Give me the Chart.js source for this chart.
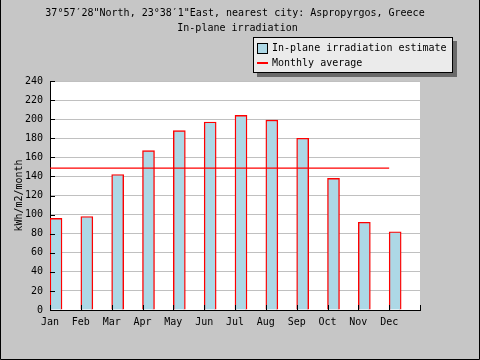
<!DOCTYPE html>
<html>
<head>
<meta charset="utf-8">
<script src="https://cdn.jsdelivr.net/npm/chart.js@4/dist/chart.umd.min.js"></script>
<style>
html,body{margin:0;padding:0;background:#c6c6c6;}
#wrap{width:480px;height:360px;position:relative;}
</style>
</head>
<body>
<div id="wrap"><canvas id="c" width="480" height="360"></canvas></div>
<script>
// ---- data ----
const months = ['Jan','Feb','Mar','Apr','May','Jun','Jul','Aug','Sep','Oct','Nov','Dec'];
const irradiation = [96, 98, 142, 167, 188, 197, 204, 199, 180, 138, 92, 82];
const monthlyAverage = 148.6;
const titleLines = ['37°57′28"North, 23°38′1"East, nearest city: Aspropyrgos, Greece', 'In-plane irradiation'];
const seriesLabels = ['In-plane irradiation estimate', 'Monthly average'];
const yAxisLabel = 'kWh/m2/month';
const yMin = 0, yMax = 240, yStep = 20;

// ---- style ----
const FONT = "'DejaVu Sans Mono', monospace";
const BAR_FILL = '#add8e6';
const RED = '#ff0000';
const BAR_PX = 12;

Chart.defaults.font.family = FONT;
Chart.defaults.font.size = 10;
Chart.defaults.color = '#000';

const decor = {
  id: 'decor',
  beforeDraw(chart) {
    const {ctx, chartArea: a} = chart;
    ctx.save();
    ctx.fillStyle = '#c6c6c6';
    ctx.fillRect(0, 0, chart.width, chart.height);
    ctx.fillStyle = '#ffffff';
    ctx.fillRect(a.left, a.top, a.right - a.left, a.bottom - a.top);
    ctx.restore();
  },
  afterDraw(chart) {
    const {ctx, chartArea: a, scales: {x, y}} = chart;
    ctx.save();
    // inward ticks
    ctx.strokeStyle = '#000';
    ctx.lineWidth = 1;
    ctx.beginPath();
    for (let v = yMin; v <= yMax; v += yStep) {
      const py = Math.round(y.getPixelForValue(v)) + 0.5;
      ctx.moveTo(a.left, py); ctx.lineTo(a.left + 5, py);
    }
    for (let i = 0; i <= months.length; i++) {
      const px = Math.round(x.getPixelForValue(i)) + 0.5;
      ctx.moveTo(px, a.bottom); ctx.lineTo(px, a.bottom - 5);
    }
    ctx.stroke();
    // titles
    ctx.fillStyle = '#000';
    ctx.font = '10px ' + FONT;
    ctx.textAlign = 'center';
    ctx.textBaseline = 'middle';
    ctx.fillText(titleLines[0], 235, 13.5);
    ctx.fillText(titleLines[1], 237.5, 28.5);
    // legend
    const lx = 253, ly = 37, lw = 200, lh = 36;
    ctx.fillStyle = '#6a6a6a';
    ctx.fillRect(lx + 4, ly + 4, lw, lh);
    ctx.fillStyle = '#ebebeb';
    ctx.fillRect(lx, ly, lw, lh);
    ctx.strokeStyle = '#000';
    ctx.strokeRect(lx + 0.5, ly + 0.5, lw - 1, lh - 1);
    ctx.fillStyle = BAR_FILL;
    ctx.fillRect(257, 43, 10, 10);
    ctx.strokeRect(257.5, 43.5, 10, 10);
    ctx.fillStyle = RED;
    ctx.fillRect(257, 62, 11, 2);
    ctx.fillStyle = '#000';
    ctx.textAlign = 'left';
    ctx.fillText(seriesLabels[0], 272, 48.5);
    ctx.fillText(seriesLabels[1], 272, 63.5);
    // outer frame (left, right, bottom)
    ctx.strokeStyle = '#000';
    ctx.beginPath();
    ctx.moveTo(0.5, 0); ctx.lineTo(0.5, chart.height - 0.5);
    ctx.lineTo(chart.width - 0.5, chart.height - 0.5);
    ctx.lineTo(chart.width - 0.5, 0);
    ctx.stroke();
    ctx.restore();
  }
};

let shift = 0;
const chart = new Chart(document.getElementById('c'), {
  data: {
    datasets: [
      {
        type: 'line',
        label: seriesLabels[1],
        order: 0,
        data: [{x: 0, y: monthlyAverage}, {x: months.length - 1, y: monthlyAverage}],
        borderColor: RED,
        borderWidth: 1.2,
        pointRadius: 0,
        fill: false
      },
      {
        type: 'bar',
        label: seriesLabels[0],
        order: 1,
        data: irradiation.map((v, i) => ({x: i, y: v})),
        backgroundColor: BAR_FILL,
        borderColor: RED,
        borderWidth: 1.4,
        barThickness: BAR_PX
      }
    ]
  },
  options: {
    responsive: false,
    animation: false,
    events: [],
    layout: {padding: {left: 0, top: 81, right: 60, bottom: 0}},
    plugins: {legend: {display: false}, title: {display: false}, tooltip: {enabled: false}},
    scales: {
      x: {
        type: 'linear',
        min: 0,
        max: months.length,
        offset: false,
        afterFit(s) { s.height = 50; },
        grid: {display: false, drawTicks: false},
        border: {color: '#000', width: 1},
        ticks: {
          stepSize: 1,
          padding: 6,
          maxRotation: 0,
          autoSkip: false,
          callback: v => months[v] || ''
        }
      },
      y: {
        min: yMin,
        max: yMax,
        afterFit(s) { s.width = 50; },
        grid: {color: '#c0c0c0', drawTicks: false},
        border: {color: '#000', width: 1},
        ticks: {stepSize: yStep, padding: 7},
        title: {display: true, text: yAxisLabel, padding: {top: 13, bottom: 0}}
      }
    }
  },
  plugins: [decor]
});
// shift bars so their left edge sits on the month tick
const xs = chart.scales.x;
const pxPerUnit = xs.getPixelForValue(1) - xs.getPixelForValue(0);
shift = (BAR_PX / 2) / pxPerUnit;
chart.data.datasets[1].data = irradiation.map((v, i) => ({x: i + shift, y: v}));
chart.update();
</script>
</body>
</html>
